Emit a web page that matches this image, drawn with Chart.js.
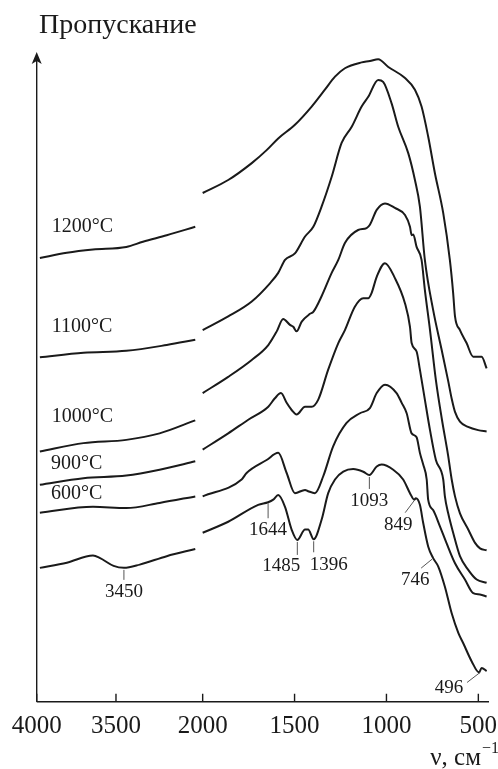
<!DOCTYPE html>
<html>
<head>
<meta charset="utf-8">
<script src="https://cdn.jsdelivr.net/npm/chart.js@4.4.1/dist/chart.umd.min.js"></script>
<style>
  html, body { margin: 0; padding: 0; background: #fff; }
</style>
</head>
<body>
<canvas id="irChart" width="498" height="769"></canvas>
<script>
// IR spectra after calcination, wavenumber in cm-1, transmittance in arbitrary units
const curveNames = ['1200°C', '1100°C', '1000°C', '900°C', '600°C', ''];

const nu1200 = [3980, 3810, 3645, 3435, 3330, 3180, 3000, 2000, 1861, 1733, 1652, 1589, 1498, 1407, 1335, 1280, 1226, 1135, 1090, 1045, 990, 899, 845, 809, 773, 736, 691, 655, 637, 627, 600, 564, 528, 482, 455];
const t1200 = [68.3, 69.1, 69.6, 70.0, 70.8, 71.8, 73.1, 78.3, 80.3, 82.9, 84.9, 86.7, 88.8, 91.6, 94.2, 96.2, 97.5, 98.4, 98.6, 98.9, 97.7, 96.0, 94.2, 91.6, 87.0, 81.3, 75.2, 68.0, 62.9, 59.3, 57.2, 55.2, 53.1, 53.1, 51.3];

const nu1100 = [3980, 3705, 3435, 3180, 3000, 2000, 1861, 1733, 1634, 1589, 1552, 1498, 1443, 1398, 1353, 1298, 1244, 1189, 1135, 1099, 1045, 1018, 972, 936, 881, 845, 818, 791, 746, 700, 665, 644, 627, 600, 556, 501, 455];
const t1100 = [53.0, 53.7, 54.0, 54.9, 55.7, 57.2, 59.3, 61.6, 64.4, 66.0, 68.0, 69.0, 71.6, 73.1, 76.2, 80.8, 86.0, 88.5, 91.6, 93.1, 95.7, 95.4, 92.1, 88.5, 84.4, 80.3, 76.2, 68.0, 60.3, 54.2, 49.5, 46.5, 44.6, 43.1, 42.3, 41.8, 41.6];

const nu1000 = [3980, 3705, 3435, 3225, 3000, 2000, 1861, 1733, 1643, 1597, 1562, 1525, 1507, 1489, 1461, 1416, 1398, 1353, 1298, 1262, 1226, 1154, 1108, 1090, 1053, 1008, 954, 899, 872, 863, 854, 836, 809, 791, 763, 731, 698, 665, 645, 627, 600, 555, 517, 491, 455];
const t1000 = [38.5, 39.8, 40.3, 41.3, 43.3, 47.5, 50.0, 52.6, 54.9, 57.0, 58.9, 58.0, 57.7, 57.0, 58.5, 59.7, 60.0, 62.4, 66.0, 68.0, 70.6, 72.6, 72.9, 73.4, 75.7, 76.7, 76.0, 74.9, 73.1, 71.8, 71.9, 70.0, 68.0, 63.4, 57.2, 49.5, 43.4, 38.0, 34.2, 31.6, 29.0, 26.5, 24.4, 23.6, 23.3];

const nu900 = [3980, 3705, 3435, 3225, 3000, 2000, 1861, 1752, 1643, 1607, 1574, 1543, 1516, 1489, 1443, 1407, 1371, 1317, 1262, 1226, 1172, 1126, 1099, 1081, 1053, 1008, 954, 899, 872, 863, 836, 818, 791, 763, 731, 691, 682, 664, 637, 600, 555, 509, 455];
const t900 = [33.4, 34.4, 34.8, 35.7, 37.0, 38.8, 41.3, 43.4, 45.4, 46.7, 47.5, 46.0, 44.9, 44.2, 45.4, 45.4, 46.5, 51.1, 55.2, 57.2, 60.8, 62.1, 62.1, 62.9, 65.4, 67.5, 65.2, 61.3, 57.7, 55.2, 53.9, 51.1, 46.5, 41.8, 37.2, 34.2, 31.6, 29.0, 26.0, 22.4, 20.3, 18.8, 18.3];

const nu600 = [3980, 3645, 3435, 3225, 3000, 2000, 1788, 1761, 1652, 1589, 1543, 1498, 1443, 1426, 1389, 1344, 1290, 1217, 1144, 1090, 1053, 1008, 945, 917, 890, 863, 836, 818, 800, 781, 773, 746, 709, 673, 627, 573, 528, 491, 455];
const t600 = [29.1, 30.0, 29.8, 30.6, 31.6, 31.6, 34.2, 35.2, 37.2, 38.3, 35.2, 32.1, 32.6, 32.4, 32.1, 34.7, 39.3, 42.9, 44.4, 45.2, 47.5, 48.8, 47.5, 46.0, 44.4, 41.3, 40.7, 38.3, 36.5, 34.2, 31.1, 29.5, 27.0, 24.4, 21.3, 18.8, 16.7, 16.5, 16.2];

const nuBase = [3980, 3810, 3645, 3600, 3515, 3450, 3350, 3180, 3000, 2000, 1861, 1698, 1644, 1616, 1589, 1552, 1516, 1485, 1443, 1426, 1396, 1353, 1317, 1280, 1235, 1181, 1126, 1093, 1053, 1026, 963, 909, 872, 849, 840, 818, 800, 773, 746, 718, 682, 645, 609, 582, 536, 496, 482, 455];
const tBase = [20.6, 21.4, 22.5, 22.1, 20.9, 20.6, 21.1, 22.4, 23.5, 26.0, 27.7, 30.3, 30.7, 31.1, 31.8, 30.0, 26.5, 24.9, 26.5, 26.5, 25.0, 28.0, 32.1, 34.2, 35.4, 35.8, 35.4, 34.9, 36.2, 36.5, 35.7, 34.2, 32.1, 31.1, 31.3, 30.3, 27.5, 23.9, 22.1, 20.8, 17.7, 13.6, 10.6, 9.0, 6.2, 4.5, 5.2, 4.7];

// bands marked on the lowest spectrum
const bandMarks = [3450, 1644, 1485, 1396, 1093, 849, 746, 496];

const xTicks = [4000, 3500, 2000, 1500, 1000, 500];

// broken wavenumber axis: 4000-3000, gap, then 2000-450 drawn wider
const BREAK_HI = 3000, BREAK_LO = 2000;
const GAP = 46.7;
const RIGHT_STRETCH = 1.159;
function xPos(nu) {
    if (nu >= BREAK_HI) return 4000 - nu;
    return (4000 - BREAK_HI) + GAP + (BREAK_LO - nu) * RIGHT_STRETCH;
}

function toPoints(nu, t) {
    const pts = [];
    for (let i = 0; i < nu.length; i++) {
        if (i > 0 && nu[i - 1] >= BREAK_HI && nu[i] <= BREAK_LO) {
            pts.push({x: xPos(2500), y: null});
        }
        pts.push({x: xPos(nu[i]), y: t[i]});
    }
    return pts;
}

function valueAt(nu, t, v) {
    for (let i = 0; i < nu.length - 1; i++) {
        if (nu[i] >= v && nu[i + 1] <= v) {
            const f = (nu[i] - v) / (nu[i] - nu[i + 1]);
            return t[i] + f * (t[i + 1] - t[i]);
        }
    }
    return t[t.length - 1];
}

const spectra = [
    [nu1200, t1200], [nu1100, t1100], [nu1000, t1000],
    [nu900, t900], [nu600, t600], [nuBase, tBase]
];

const LINE = '#1a1a1a';
const SERIF = '"Liberation Serif", "DejaVu Serif", serif';

// where the temperature captions sit (left edge, in data units)
const captionAt = [
    {nu: 3905, t: 73.1},
    {nu: 3905, t: 57.7},
    {nu: 3905, t: 43.8},
    {nu: 3910, t: 36.7},
    {nu: 3910, t: 32.0}
];

// leader line and caption offsets for the marked bands, px from the curve point
const bandLayout = {
    3450: {l: [0, 2, 0, 12], tx: 0, ty: 24},
    1644: {l: [0, 1, 0, 16], tx: 0, ty: 28},
    1485: {l: [0, 2, 0, 15], tx: -16, ty: 26},
    1396: {l: [0, 2, 0, 13], tx: 15, ty: 26},
    1093: {l: [0, 2, 0, 14], tx: 0, ty: 26},
    849: {l: [0, 1, -9, 13], tx: -16, ty: 25},
    746: {l: [-1, 1, -12, 10], tx: -18, ty: 22},
    496: {l: [1, 0, -12, 10], tx: -30, ty: 16}
};

const decorPlugin = {
    id: 'spectrumDecor',
    afterDraw(chart) {
        const {ctx, chartArea: a, scales: {x, y}} = chart;
        ctx.save();
        ctx.strokeStyle = LINE;
        ctx.fillStyle = LINE;

        // axes
        ctx.lineWidth = 1.4;
        ctx.beginPath();
        ctx.moveTo(a.left, a.bottom);
        ctx.lineTo(a.right, a.bottom);
        ctx.moveTo(a.left, a.bottom);
        ctx.lineTo(a.left, a.top + 8);
        ctx.stroke();
        ctx.beginPath();
        ctx.moveTo(a.left, a.top);
        ctx.lineTo(a.left - 5, a.top + 12);
        ctx.lineTo(a.left, a.top + 9);
        ctx.lineTo(a.left + 5, a.top + 12);
        ctx.closePath();
        ctx.fill();

        // ticks point up into the plot
        ctx.beginPath();
        xTicks.forEach(nu => {
            const px = x.getPixelForValue(xPos(nu));
            ctx.moveTo(px, a.bottom);
            ctx.lineTo(px, a.bottom - 8);
        });
        ctx.stroke();

        ctx.font = '25px ' + SERIF;
        ctx.textAlign = 'center';
        ctx.textBaseline = 'middle';
        xTicks.forEach(nu => {
            ctx.fillText(String(nu), x.getPixelForValue(xPos(nu)), a.bottom + 25);
        });

        // axis titles
        ctx.textAlign = 'left';
        ctx.textBaseline = 'alphabetic';
        ctx.font = '28px ' + SERIF;
        ctx.fillText('Пропускание', 39, 33);
        ctx.font = '25px ' + SERIF;
        ctx.textAlign = 'right';
        ctx.fillText('ν, см', 481, 765);
        ctx.font = '16px ' + SERIF;
        ctx.textAlign = 'left';
        ctx.fillText('−1', 482, 753);

        // temperature captions
        ctx.font = '20px ' + SERIF;
        ctx.textBaseline = 'middle';
        captionAt.forEach((c, i) => {
            ctx.fillText(curveNames[i], x.getPixelForValue(xPos(c.nu)), y.getPixelForValue(c.t));
        });

        // band positions on the lowest spectrum
        ctx.font = '19px ' + SERIF;
        ctx.textAlign = 'center';
        ctx.strokeStyle = '#555';
        ctx.lineWidth = 1;
        bandMarks.forEach(nu => {
            const px = x.getPixelForValue(xPos(nu));
            const py = y.getPixelForValue(valueAt(nuBase, tBase, nu));
            const s = bandLayout[nu];
            ctx.beginPath();
            ctx.moveTo(px + s.l[0], py + s.l[1]);
            ctx.lineTo(px + s.l[2], py + s.l[3]);
            ctx.stroke();
            ctx.fillText(String(nu), px + s.tx, py + s.ty);
        });
        ctx.restore();
    }
};

new Chart(document.getElementById('irChart'), {
    type: 'line',
    data: {
        datasets: spectra.map((s, i) => ({
            label: curveNames[i] || 'base',
            data: toPoints(s[0], s[1]),
            borderColor: LINE,
            borderWidth: 2,
            pointRadius: 0,
            cubicInterpolationMode: 'monotone',
            spanGaps: false,
            fill: false
        }))
    },
    options: {
        responsive: false,
        animation: false,
        devicePixelRatio: 1,
        layout: {padding: {left: 36.7, right: 9, top: 52, bottom: 67.3}},
        plugins: {legend: {display: false}, tooltip: {enabled: false}},
        scales: {
            x: {type: 'linear', display: false, min: 0, max: xPos(442)},
            y: {display: false, min: 0, max: 100}
        }
    },
    plugins: [decorPlugin]
});
</script>
</body>
</html>
